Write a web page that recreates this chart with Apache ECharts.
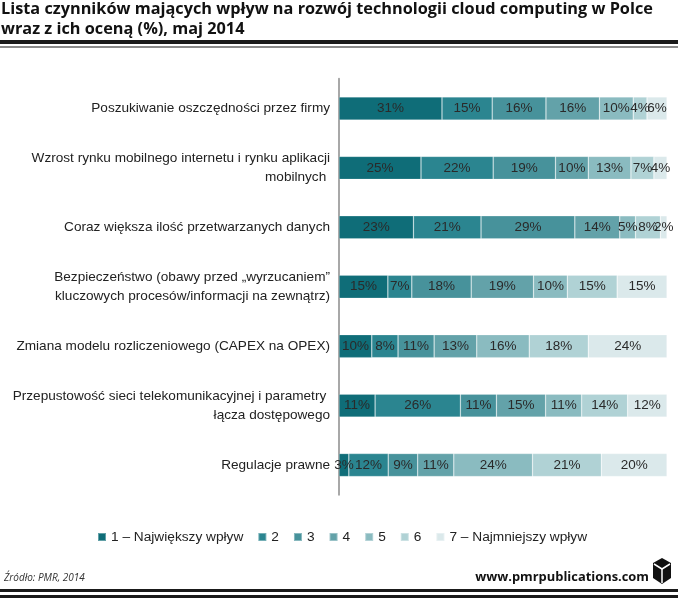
<!DOCTYPE html>
<html>
<head>
<meta charset="utf-8">
<script src="https://cdn.jsdelivr.net/npm/echarts@6/dist/echarts.min.js"></script>
<style>
html,body{margin:0;padding:0;background:#fff;}
#c{width:680px;height:601px;}
</style>
</head>
<body>
<div id="c"></div>
<script>
var categories = [
  'Poszukiwanie oszczędności przez firmy',
  'Wzrost rynku mobilnego internetu i rynku aplikacji\nmobilnych ',
  'Coraz większa ilość przetwarzanych danych',
  'Bezpieczeństwo (obawy przed „wyrzucaniem”\nkluczowych procesów/informacji na zewnątrz)',
  'Zmiana modelu rozliczeniowego (CAPEX na OPEX)',
  'Przepustowość sieci telekomunikacyjnej i parametry \nłącza dostępowego',
  'Regulacje prawne'
];
var seriesNames = ['1 – Największy wpływ', '2', '3', '4', '5', '6', '7 – Najmniejszy wpływ'];
var rating1 = [31.4, 25, 22.7, 14.9, 10, 11, 3];
var rating2 = [15.3, 22, 20.6, 7.3, 8, 26, 12];
var rating3 = [16.4, 19, 28.6, 18.1, 11, 11, 9];
var rating4 = [16.3, 10, 13.7, 19.0, 13, 15, 11];
var rating5 = [10.3, 13, 4.8, 10.3, 16, 11, 24];
var rating6 = [4.2, 7, 7.6, 15.2, 18, 14, 21];
var rating7 = [6.1, 4, 2.0, 15.2, 24, 12, 20];
var colors = ['#0f6d78', '#2b8590', '#47929b', '#63a2a9', '#8abbc0', '#b0d2d5', '#dbe9eb'];

var allData = [rating1, rating2, rating3, rating4, rating5, rating6, rating7];
var series = allData.map(function (d, i) {
  return {
    name: seriesNames[i],
    type: 'bar',
    stack: 'total',
    barWidth: 23,
    data: d,
    itemStyle: { color: colors[i], borderColor: 'rgba(255,255,255,0.35)', borderWidth: 0.6 },
    label: {
      show: true,
      position: 'inside',
      formatter: function (p) { return Math.round(p.value) + '%'; },
      fontFamily: 'Liberation Sans, Arial, sans-serif',
      fontSize: 13.5,
      color: '#2a2a2a'
    },
    emphasis: { disabled: true },
    silent: true
  };
});

var chart = echarts.init(document.getElementById('c'), null, { renderer: 'canvas' });
chart.setOption({
  animation: false,
  color: colors,
  title: {
    text: 'Lista czynników mających wpływ na rozwój technologii cloud computing w Polce\nwraz z ich oceną (%), maj 2014',
    left: 0,
    top: 0,
    padding: [0, 0, 0, 1],
    textStyle: {
      fontFamily: 'Open Sans',
      fontWeight: 'bold',
      fontSize: 16.3,
      lineHeight: 19.5,
      color: '#111'
    }
  },
  legend: {
    left: 92,
    top: 525,
    itemWidth: 8,
    itemHeight: 8,
    itemGap: 14,
    icon: 'rect',
    data: seriesNames,
    textStyle: {
      fontFamily: 'Liberation Sans, Arial, sans-serif',
      fontSize: 13.7,
      color: '#222'
    }
  },
  grid: {
    left: 339,
    right: 13,
    top: 78.75,
    bottom: 106.25,
    containLabel: false
  },
  xAxis: {
    type: 'value',
    min: 0,
    max: 100,
    show: false
  },
  yAxis: {
    type: 'category',
    inverse: true,
    data: categories,
    axisLine: { show: true, lineStyle: { color: '#a8a8a8', width: 2 } },
    axisTick: { show: false },
    axisLabel: {
      margin: 9,
      fontFamily: 'Liberation Sans, Arial, sans-serif',
      fontSize: 13.6,
      lineHeight: 19,
      color: '#222',
      align: 'right'
    }
  },
  graphic: [
    { type: 'rect', shape: { x: 0, y: 40, width: 678, height: 4 }, style: { fill: '#1a1a1a' } },
    { type: 'rect', shape: { x: 0, y: 46, width: 678, height: 2 }, style: { fill: '#8a8a8a' } },
    { type: 'text', left: 4, top: 573, style: { text: 'Źródło: PMR, 2014', font: 'italic 10px "Open Sans"', fill: '#333' } },
    { type: 'text', right: 31, top: 571, style: { text: 'www.pmrpublications.com', font: 'bold 12.9px "Open Sans"', fill: '#111' } },
    { type: 'polygon', shape: { points: [[662, 558], [671, 563], [671, 578], [662, 584], [653, 578], [653, 563]] }, style: { fill: '#111' } },
    { type: 'polyline', shape: { points: [[654, 564], [662, 569], [670, 564]] }, style: { stroke: '#fff', lineWidth: 1.5, fill: null } },
    { type: 'line', shape: { x1: 662, y1: 569, x2: 662, y2: 583 }, style: { stroke: '#fff', lineWidth: 1.5 } },
    { type: 'rect', shape: { x: 0, y: 589, width: 678, height: 3 }, style: { fill: '#1a1a1a' } },
    { type: 'rect', shape: { x: 0, y: 595, width: 678, height: 3 }, style: { fill: '#1a1a1a' } }
  ],
  series: series
});
</script>
</body>
</html>
